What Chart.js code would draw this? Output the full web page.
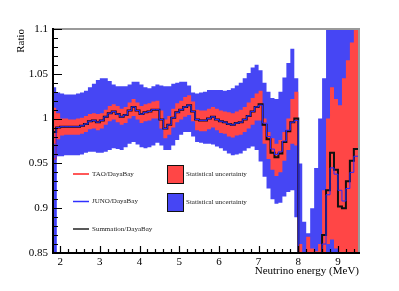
<!DOCTYPE html>
<html>
<head>
<meta charset="utf-8">
<script src="https://cdn.jsdelivr.net/npm/chart.js@4"></script>
<style>
  body { margin: 0; background: #fff; }
  #box { width: 399px; height: 291px; }
</style>
</head>
<body>
<div id="box"><canvas id="ratioChart"></canvas></div>
<script>
// bin left edges (MeV), last entry closes the last bin
const edges = [1.8, 1.9, 2.0, 2.1, 2.2, 2.3, 2.4, 2.5, 2.6, 2.7,
  2.8, 2.9, 3.0, 3.1, 3.2, 3.3, 3.4, 3.5, 3.6, 3.7,
  3.8, 3.9, 4.0, 4.1, 4.2, 4.3, 4.4, 4.5, 4.6, 4.7,
  4.8, 4.9, 5.0, 5.1, 5.2, 5.3, 5.4, 5.5, 5.6, 5.7,
  5.8, 5.9, 6.0, 6.1, 6.2, 6.3, 6.4, 6.5, 6.6, 6.7,
  6.8, 6.9, 7.0, 7.1, 7.2, 7.3, 7.4, 7.5, 7.6, 7.7,
  7.8, 7.9, 8.0, 8.1, 8.2, 8.3, 8.4, 8.5, 8.6, 8.7,
  8.8, 8.9, 9.0, 9.1, 9.2, 9.3, 9.4, 9.55];

const summation = [0.985, 0.990, 0.991, 0.991, 0.991, 0.991, 0.991, 0.992, 0.994, 0.997,
  0.998, 0.996, 0.998, 1.002, 1.006, 1.008, 1.005, 1.002, 1.004, 1.009,
  1.013, 1.009, 1.005, 1.007, 1.008, 1.010, 1.010, 0.999, 0.989, 0.993,
  1.001, 1.007, 1.010, 1.013, 1.015, 1.008, 0.999, 0.998, 0.998, 1.000,
  1.002, 0.999, 0.997, 0.996, 0.994, 0.993, 0.995, 0.996, 0.999, 1.003,
  1.008, 1.013, 1.016, 0.993, 0.977, 0.962, 0.957, 0.961, 0.974, 0.986,
  0.996, 1.000, 0.800, 0.780, 0.780, 0.780, 0.790, 0.820, 0.870, 0.920,
  0.962, 0.943, 0.902, 0.900, 0.930, 0.953, 0.966];

const juno = [0.800, 0.990, 0.991, 0.991, 0.991, 0.991, 0.991, 0.992, 0.994, 0.997,
  0.998, 0.996, 0.998, 1.002, 1.006, 1.008, 1.005, 1.002, 1.004, 1.009,
  1.013, 1.009, 1.005, 1.007, 1.008, 1.010, 1.010, 0.999, 0.989, 0.993,
  1.001, 1.007, 1.010, 1.013, 1.015, 1.008, 0.999, 0.998, 0.998, 1.000,
  1.002, 0.999, 0.997, 0.996, 0.994, 0.993, 0.995, 0.996, 0.999, 1.003,
  1.008, 1.013, 1.015, 0.995, 0.980, 0.966, 0.960, 0.963, 0.975, 0.987,
  0.996, 0.998, 0.800, 0.780, 0.780, 0.780, 0.790, 0.820, 0.860, 0.915,
  0.945, 0.938, 0.920, 0.908, 0.922, 0.940, 0.958];

const tao = [0.955, 0.990, 0.991, 0.991, 0.991, 0.991, 0.991, 0.992, 0.994, 0.997,
  0.998, 0.996, 0.998, 1.002, 1.006, 1.008, 1.005, 1.002, 1.004, 1.009,
  1.013, 1.009, 1.005, 1.007, 1.008, 1.010, 1.010, 0.999, 0.989, 0.993,
  1.001, 1.007, 1.010, 1.013, 1.015, 1.008, 0.999, 0.998, 0.998, 1.000,
  1.002, 0.999, 0.997, 0.996, 0.994, 0.993, 0.995, 0.996, 0.999, 1.003,
  1.008, 1.013, 1.016, 0.993, 0.977, 0.962, 0.957, 0.961, 0.974, 0.986,
  0.996, 1.000, 0.800, 0.780, 0.780, 0.780, 0.790, 0.820, 0.870, 0.920,
  0.962, 0.943, 0.902, 0.900, 0.930, 0.953, 0.966];

// statistical uncertainty bands (upper / lower edge)
const blueHigh = [1.035, 1.029, 1.028, 1.027, 1.027, 1.027, 1.028, 1.029, 1.031, 1.035,
  1.039, 1.043, 1.045, 1.045, 1.042, 1.038, 1.036, 1.036, 1.036, 1.038,
  1.041, 1.041, 1.038, 1.035, 1.034, 1.036, 1.038, 1.037, 1.036, 1.036,
  1.039, 1.040, 1.041, 1.041, 1.037, 1.029, 1.028, 1.029, 1.030, 1.032,
  1.032, 1.032, 1.032, 1.031, 1.032, 1.034, 1.037, 1.040, 1.045, 1.051,
  1.057, 1.060, 1.054, 1.040, 1.030, 1.023, 1.022, 1.030, 1.046, 1.062,
  1.078, 1.045, 0.950, 0.885, 0.872, 0.900, 0.945, 1.000, 1.045, 1.150,
  1.150, 1.150, 1.150, 1.150, 1.150, 1.150, 1.150];

const blueLow = [0.800, 0.958, 0.958, 0.959, 0.959, 0.959, 0.959, 0.960, 0.962, 0.963,
  0.963, 0.962, 0.962, 0.963, 0.965, 0.967, 0.966, 0.965, 0.968, 0.972,
  0.974, 0.971, 0.968, 0.967, 0.968, 0.970, 0.973, 0.970, 0.965, 0.965,
  0.970, 0.976, 0.982, 0.985, 0.985, 0.980, 0.974, 0.973, 0.972, 0.972,
  0.971, 0.969, 0.967, 0.964, 0.961, 0.959, 0.960, 0.961, 0.964, 0.967,
  0.969, 0.965, 0.952, 0.935, 0.922, 0.910, 0.905, 0.906, 0.913, 0.918,
  0.920, 0.890, 0.800, 0.800, 0.800, 0.800, 0.800, 0.800, 0.800, 0.800,
  0.800, 0.800, 0.800, 0.800, 0.800, 0.800, 0.800];

const redHigh = [1.012, 1.006, 1.000, 1.000, 0.999, 0.999, 1.000, 1.001, 1.003, 1.005,
  1.006, 1.005, 1.006, 1.010, 1.014, 1.016, 1.014, 1.011, 1.013, 1.018,
  1.022, 1.018, 1.014, 1.016, 1.017, 1.019, 1.020, 1.009, 0.999, 1.003,
  1.011, 1.017, 1.020, 1.024, 1.026, 1.019, 1.010, 1.009, 1.009, 1.011,
  1.013, 1.011, 1.009, 1.008, 1.007, 1.006, 1.008, 1.010, 1.013, 1.018,
  1.023, 1.028, 1.031, 1.000, 0.985, 0.978, 0.972, 0.976, 0.985, 1.000,
  1.022, 1.030, 0.860, 0.850, 0.868, 0.855, 0.852, 0.860, 0.920, 1.000,
  1.035, 1.022, 1.015, 1.045, 1.065, 1.085, 1.110];

const redLow = [0.972, 0.977, 0.981, 0.982, 0.982, 0.982, 0.982, 0.983, 0.985, 0.988,
  0.989, 0.987, 0.989, 0.993, 0.997, 0.999, 0.996, 0.993, 0.995, 1.000,
  1.003, 0.999, 0.995, 0.997, 0.998, 1.000, 1.000, 0.989, 0.978, 0.982,
  0.990, 0.996, 0.999, 1.002, 1.004, 0.997, 0.987, 0.986, 0.986, 0.988,
  0.990, 0.987, 0.984, 0.983, 0.980, 0.979, 0.981, 0.982, 0.985, 0.989,
  0.993, 0.998, 0.998, 0.972, 0.955, 0.943, 0.936, 0.940, 0.953, 0.965,
  0.972, 0.970, 0.800, 0.800, 0.800, 0.800, 0.800, 0.800, 0.800, 0.860,
  0.865, 0.855, 0.800, 0.800, 0.800, 0.800, 0.800];

const xTicks = [2, 3, 4, 5, 6, 7, 8, 9];
const yTicks = [0.85, 0.9, 0.95, 1, 1.05, 1.1];

const RED = '#ff4646';
const BLUE = '#4646f4';
const serif = "'Liberation Serif', 'DejaVu Serif', serif";

// histogram -> stepped points
function steps(vals) {
  const pts = vals.map((v, i) => ({ x: edges[i], y: v }));
  pts.push({ x: edges[edges.length - 1], y: vals[vals.length - 1] });
  return pts;
}

function band(vals, fill, color, order) {
  return {
    data: steps(vals), stepped: true, fill: fill, backgroundColor: color,
    borderWidth: 0, pointRadius: 0, order: order
  };
}

function line(vals, color, width, order) {
  return {
    data: steps(vals), stepped: true, fill: false, borderColor: color,
    borderWidth: width, pointRadius: 0, order: order
  };
}

const frame = {
  id: 'frame',
  afterDraw(chart) {
    const { ctx, chartArea: a, scales } = chart;
    const x = scales.x, y = scales.y;
    ctx.save();
    ctx.strokeStyle = '#9a9a9a';
    ctx.lineWidth = 2;
    ctx.beginPath();
    ctx.moveTo(a.left, a.top);
    ctx.lineTo(a.right, a.top);
    ctx.lineTo(a.right, a.bottom);
    ctx.stroke();

    ctx.strokeStyle = '#000';
    ctx.lineWidth = 1.2;
    ctx.beginPath();
    for (let i = 0; i <= 25; i++) {
      const py = Math.round(y.getPixelForValue(0.85 + i * 0.01)) + 0.5;
      const len = i % 5 === 0 ? 9 : 5;
      ctx.moveTo(a.left, py);
      ctx.lineTo(a.left + len, py);
    }
    for (let i = 0; i <= 40; i++) {
      const v = 2 + i * 0.2;
      if (v > x.max) break;
      const px = Math.round(x.getPixelForValue(v)) + 0.5;
      const len = i % 5 === 0 ? 7 : 4;
      ctx.moveTo(px, a.bottom);
      ctx.lineTo(px, a.bottom - len);
    }
    ctx.stroke();

    ctx.lineWidth = 2;
    ctx.beginPath();
    ctx.moveTo(a.left, a.top - 1);
    ctx.lineTo(a.left, a.bottom);
    ctx.lineTo(a.right + 1, a.bottom);
    ctx.stroke();

    // legend
    ctx.font = '7px ' + serif;
    ctx.textBaseline = 'middle';
    ctx.fillStyle = '#222';
    const entries = [['TAO/DayaBay', '#ff2020', 174], ['JUNO/DayaBay', '#3030ff', 201.5], ['Summation/DayaBay', '#222', 229]];
    entries.forEach(e => {
      ctx.strokeStyle = e[1];
      ctx.lineWidth = 1.5;
      ctx.beginPath();
      ctx.moveTo(73, e[2]);
      ctx.lineTo(89, e[2]);
      ctx.stroke();
      ctx.fillText(e[0], 92, e[2]);
    });
    [[RED, 165], [BLUE, 193]].forEach(b => {
      ctx.fillStyle = b[0];
      ctx.fillRect(167, b[1], 16, 18);
      ctx.strokeStyle = '#111';
      ctx.lineWidth = 1;
      ctx.strokeRect(167.5, b[1] + 0.5, 16, 18);
      ctx.fillStyle = '#222';
      ctx.fillText('Statistical uncertainty', 186, b[1] + 9);
    });
    ctx.restore();
  }
};

new Chart(document.getElementById('ratioChart'), {
  type: 'line',
  data: {
    datasets: [
      band(blueHigh, '+1', BLUE, 6),
      band(blueLow, false, BLUE, 6),
      band(redHigh, '+1', RED, 5),
      band(redLow, false, RED, 5),
      line(tao, '#ff2020', 1.2, 4),
      line(summation, '#111', 2, 3),
      line(juno, '#2a2aff', 1, 2)
    ]
  },
  options: {
    responsive: true,
    maintainAspectRatio: false,
    animation: false,
    events: [],
    layout: { padding: { top: 29, right: 40, left: 0, bottom: 0 } },
    plugins: { legend: { display: false }, tooltip: { enabled: false } },
    scales: {
      x: {
        type: 'linear', min: 1.82, max: 9.53,
        grid: { display: false, drawTicks: false },
        border: { display: false },
        afterBuildTicks: s => { s.ticks = xTicks.map(v => ({ value: v })); },
        afterFit: s => { s.height = 38; },
        ticks: { autoSkip: false, maxRotation: 0, padding: 3, color: '#000', font: { family: serif, size: 11 } },
        title: { display: true, text: 'Neutrino energy (MeV)', align: 'end', color: '#000',
          padding: { top: 13.4, bottom: 13.4 }, font: { family: serif, size: 11 } }
      },
      y: {
        type: 'linear', min: 0.85, max: 1.1,
        grid: { display: false, drawTicks: false },
        border: { display: false },
        afterBuildTicks: s => { s.ticks = yTicks.map(v => ({ value: v })); },
        afterFit: s => { s.width = 53; },
        ticks: { padding: 5, color: '#000', font: { family: serif, size: 11 },
          callback: v => String(+v.toFixed(2)) },
        title: { display: true, text: 'Ratio', align: 'end', color: '#000',
          padding: { top: 14.4, bottom: 0 }, font: { family: serif, size: 11 } }
      }
    }
  },
  plugins: [frame]
});
</script>
</body>
</html>
